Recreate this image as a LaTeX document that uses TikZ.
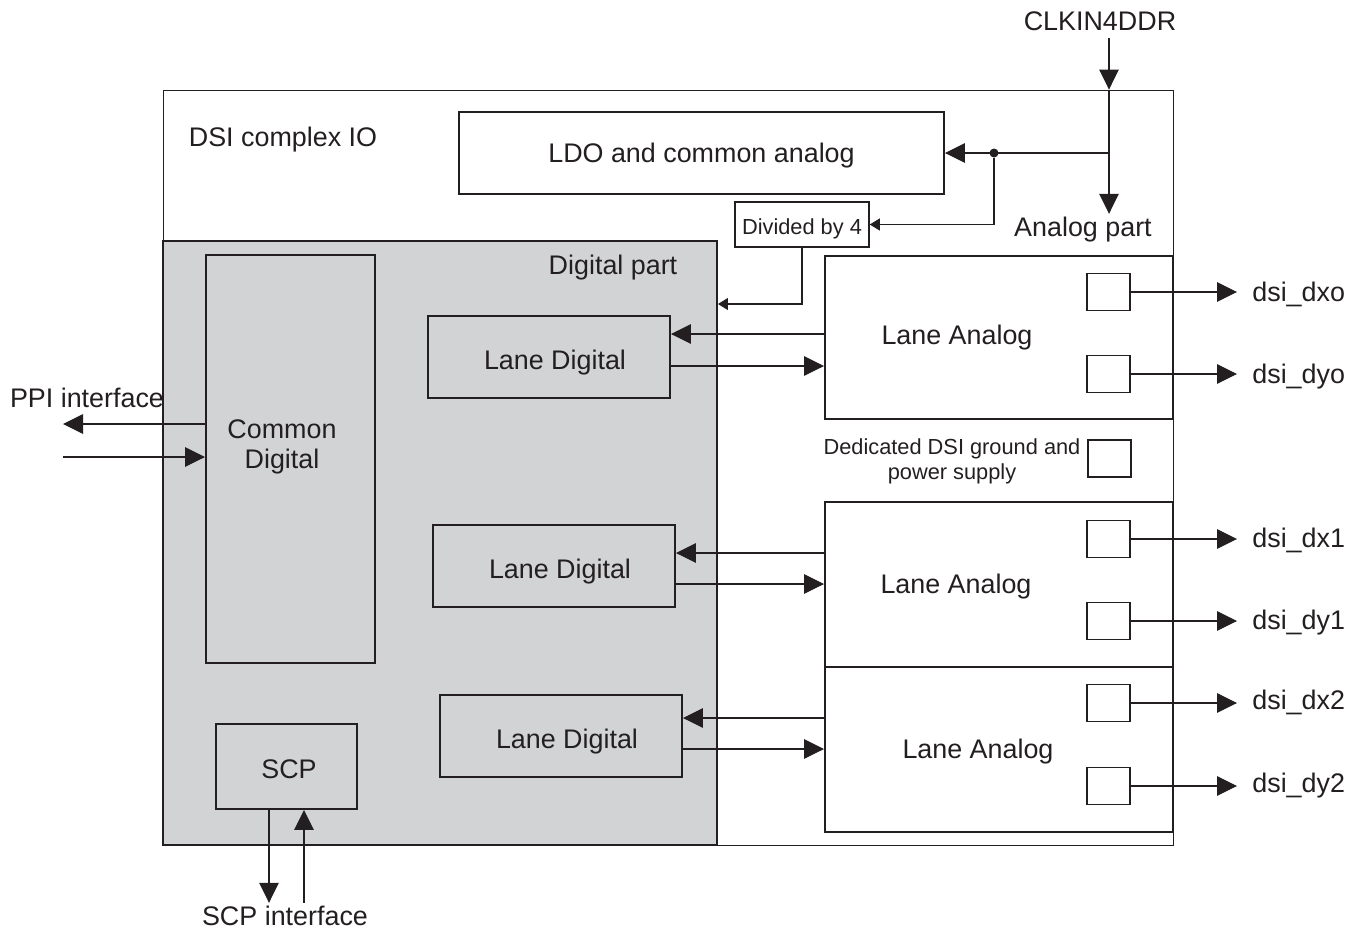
\documentclass[tikz,border=0pt]{standalone}
\usepackage{fontspec}
\setmainfont{Liberation Sans}
\usepackage{xcolor}
\usepackage{tikz}
\usetikzlibrary{arrows.meta,positioning,calc}
\definecolor{ink}{RGB}{35,31,32}
\definecolor{digigray}{RGB}{210,211,213}

\begin{document}
\begin{tikzpicture}[
  x=0.2mm, y=-0.2mm,
  txt/.style={inner sep=1pt,text=ink,text height=11.5pt,text depth=0pt,font=\fontsize{15.3}{17}\selectfont},
  multitxt/.style={inner sep=1pt,text=ink,align=center,font=\fontsize{15.3}{17}\selectfont},
  smalltxt/.style={inner sep=1pt,text=ink,align=center,font=\fontsize{12.4}{14.2}\selectfont},
  box/.style={draw=ink,line width=1.1pt,inner sep=0pt,text=ink,text height=13.8pt,text depth=0pt,font=\fontsize{15.3}{17}\selectfont},
  pad/.style={draw=ink,line width=0.7pt,minimum width=8.6mm,minimum height=7.4mm,inner sep=0pt},
  arr/.style={draw=ink,line width=0.6pt,-{Triangle[length=4mm,width=3.9mm]}},
  arrs/.style={draw=ink,line width=0.6pt,-{Triangle[length=2mm,width=2.4mm]}},
  dot/.style={circle,fill=ink,inner sep=0pt,minimum size=1.8mm}
]
\useasboundingbox (0,0) rectangle (1362,930);
% complex IO frame
\node[draw=ink,line width=0.5pt,minimum width=202mm,minimum height=151mm,inner sep=0pt] (cio) at (668,467.5) {};
\node[txt] (ciot) at (283,136) {DSI complex IO};
\node[txt] (clk) at (1100,20) {CLKIN4DDR};
\node[txt] (apart) at (1083,226) {Analog part};
\node[box,text height=10.7pt,minimum width=97mm,minimum height=16.4mm] (ldo) at (701.5,153) {LDO and common analog};
\node[box,line width=0.9pt,text height=11.2pt,minimum width=26.8mm,minimum height=9mm,font=\fontsize{12.4}{14.2}\selectfont] (div) at (802,224.5) {Divided by 4};

% digital part
\node[box,fill=digigray,minimum width=110.8mm,minimum height=120.8mm] (dig) at (440,543) {};
\node[txt] (digt) at (613,264) {Digital part};
\node[box,minimum width=33.8mm,minimum height=81.6mm] (cd) at (290.5,459) {};
\node[multitxt] (cdt) at (282,447) {Common\\Digital};
\node[box,minimum width=28.2mm,minimum height=17mm] (scp) at (286.5,766.5) {\hspace{1mm}SCP};
\node[txt] (scpif) at (285,915) {SCP interface};
\node[txt] (ppi) at (87,397) {PPI interface};
\foreach \n/\x/\y in {1/549/357, 2/554/566, 3/561/736}
  \node[box,minimum width=48.4mm,minimum height=16.4mm] (ld\n) at (\x,\y) {\hspace{2.4mm}Lane Digital};

% analog lanes
\foreach \n/\y/\h/\tx/\ty in {1/337.5/32.6/957/334, 2/584.5/33/956/583, 3/749.5/33/978/748} {
  \node[box,minimum width=69.6mm,minimum height=\h mm] (la\n) at (999,\y) {};
  \node[txt] (lat\n) at (\tx,\ty) {Lane Analog};
}
\node[pad] (gnd) at (1109.5,458.5) {};
\node[smalltxt] (gndt) at (952,461) {Dedicated DSI ground and\\power supply};

% pads and outputs
\foreach \n/\y/\ly/\lbl in {1/292/291/dsi\_dxo, 2/374/373/dsi\_dyo, 3/539/537/dsi\_dx1,
    4/621/619/dsi\_dy1, 5/703/699/dsi\_dx2, 6/786/782/dsi\_dy2} {
  \node[pad] (p\n) at (1108.5,\y) {};
  \node[txt,anchor=west,inner xsep=3mm] (o\n) at (1237,\ly) {\lbl};
  \draw[arr] (p\n.east) -- (p\n -| o\n.west);
}

% clock
\coordinate (ctap) at (cio.north -| 1109,0);
\draw[arr] ([yshift=-1.2mm]clk.south -| ctap) -- (ctap);
\draw[arr] (ctap) -- (ctap |- apart.north);
\node[dot] (tap) at (994,153) {};
\draw[arr] (ctap |- ldo.east) -- (ldo.east);
\draw[arrs] (tap) |- (div.east);
\coordinate (dclk) at (dig.east |- 0,304);
\draw[arrs] (div.south) |- (dclk);

% lane links
\foreach \n/\yu/\yd in {1/334/366, 2/553/584, 3/718/749} {
  \draw[arr] (la\n.west |- 0,\yu) -- (ld\n.east |- 0,\yu);
  \draw[arr] (ld\n.east |- 0,\yd) -- (la\n.west |- 0,\yd);
}

% PPI and SCP
\coordinate (ppio) at (63,424);
\coordinate (ppii) at (63,457);
\draw[arr] (cd.west |- ppio) -- (ppio);
\draw[arr] (ppii) -- (cd.west |- ppii);
\draw[arr] (scp.south -| 269,0) -- (scpif.north -| 269,0);
\draw[arr] (scpif.north -| 304,0) -- (scp.south -| 304,0);
\end{tikzpicture}
\end{document}
